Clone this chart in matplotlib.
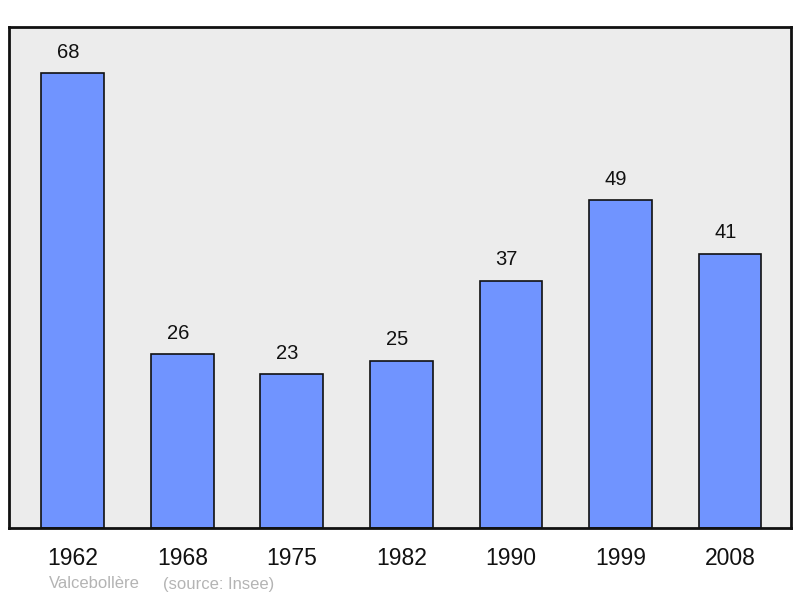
import matplotlib
matplotlib.use("Agg")
import matplotlib.pyplot as plt

plt.rcParams['font.family'] = ['Liberation Sans', 'DejaVu Sans']

# data
years = ["1962", "1968", "1975", "1982", "1990", "1999", "2008"]
population = [68, 26, 23, 25, 37, 49, 41]
commune = "Valcebollère"
source = "(source: Insee)"

fig = plt.figure(figsize=(8, 5.98), dpi=100)
ax = fig.add_axes([9/800, 1 - 528/598, 782/800, 501/598])
ax.set_facecolor("#ececec")

xs = range(len(years))
ax.bar(xs, population, width=0.575, color="#7094ff", edgecolor="#111111", linewidth=1.2, zorder=2)
for x, v in zip(xs, population):
    ax.text(x - 0.04, v + 1.7, str(v), ha="center", va="bottom", fontsize=14.5, color="#111111")

ax.set_xlim(-0.584, 6.557)
ax.set_ylim(0, 74.9)
ax.set_xticks(list(xs))
ax.set_xticklabels(years, fontsize=16.5, color="#111111")
ax.tick_params(axis="x", length=0, pad=14)
ax.set_yticks([])
for s in ax.spines.values():
    s.set_linewidth(2)
    s.set_color("#111111")

fig.text(49/800, 1 - 584/598, commune, fontsize=12, color="#b4b4b4", va="center")
fig.text(163/800, 1 - 584/598, source, fontsize=12, color="#b4b4b4", va="center")

fig.savefig("out.png", dpi=100)
